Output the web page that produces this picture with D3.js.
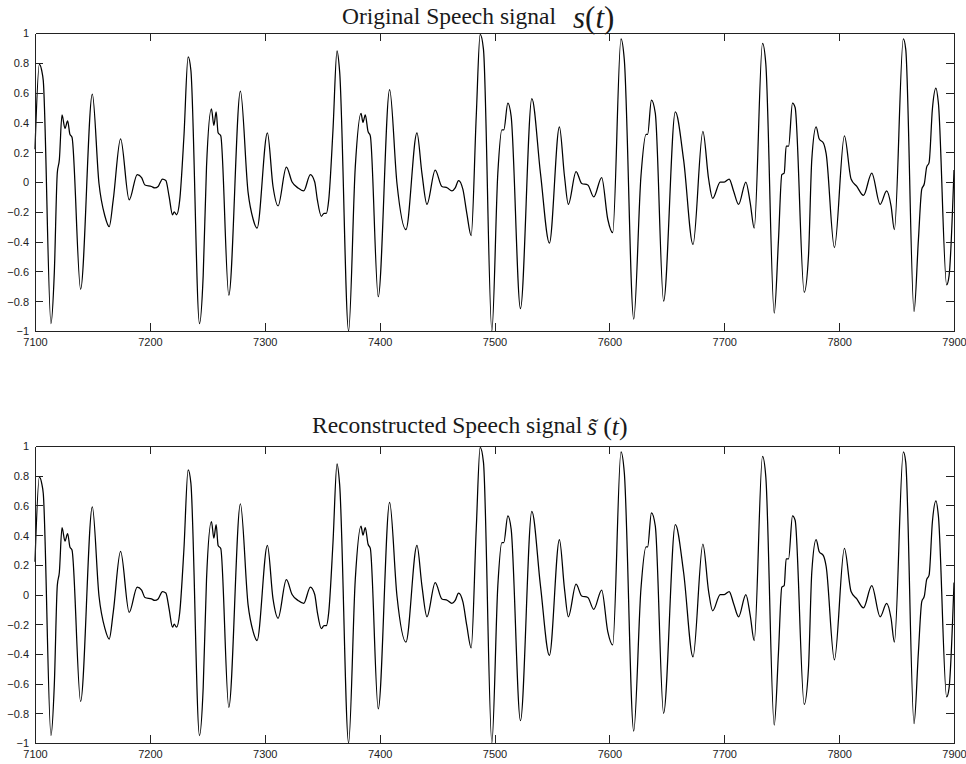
<!DOCTYPE html>
<html>
<head>
<meta charset="utf-8">
<script src="https://cdn.jsdelivr.net/npm/d3@7"></script>
<style>
    html, body { margin: 0; padding: 0; background: #fff; }
    #chart { width: 966px; height: 764px; }
    .wave { fill: none; stroke: #000; stroke-width: 1.25; stroke-linejoin: round; }
    .axis path, .axis line { stroke: #222; stroke-width: 1; shape-rendering: crispEdges; }
    .axis text { font-family: "Liberation Sans", Arial, sans-serif; font-size: 11px; fill: #222; }
    .title { font-family: "Liberation Serif", "Times New Roman", serif; fill: #1a1a1a; }
</style>
</head>
<body>
<div id="chart"></div>
<script>
// Sample index (t) and amplitude
const sampleIdx = [
    7100, 7103.8, 7105.8, 7107.2, 7113.9, 7116.8, 7119.4, 7121.2, 7123.5, 7126.1,
    7128.4, 7130.4, 7132.2, 7139.7, 7149.9, 7155.7, 7160.9, 7164.6, 7168.1, 7174.5,
    7182, 7189, 7192.8, 7195.7, 7201.4, 7204.3, 7207.2, 7211, 7213.9, 7216.8,
    7219.7, 7221.2, 7223.2, 7226, 7229.6, 7233.3, 7235.7, 7243.2, 7246.4, 7249.3,
    7253.6, 7255.7, 7257.7, 7259.4, 7261.7, 7268.7, 7278.8, 7285.5, 7289.9, 7293.3,
    7302.3, 7307.2, 7311.6, 7318.8, 7323.8, 7329, 7333.9, 7339.7, 7343.5, 7345.8,
    7349.3, 7351.6, 7353.6, 7355.7, 7359.4, 7362.9, 7365.2, 7373, 7378.8, 7383.8,
    7385.5, 7387.5, 7389.9, 7391.9, 7398.8, 7408.7, 7415.1, 7422.9, 7432.5, 7436.8,
    7441.2, 7448.4, 7454.2, 7459.1, 7462.9, 7465.8, 7468.7, 7472.5, 7475.9, 7479.7,
    7484.1, 7487.5, 7490.4, 7497.7, 7502.9, 7506.4, 7508.1, 7511.6, 7514.5, 7522.6,
    7532.5, 7540, 7547.8, 7556.5, 7560.9, 7564.3, 7571, 7575.9, 7581.2, 7586.4,
    7593.3, 7598.6, 7602.9, 7610.1, 7613, 7621.2, 7627.5, 7631.9, 7633.3, 7636.6,
    7640, 7647.2, 7657.4, 7664.6, 7672.8, 7681.4, 7686.4, 7689.9, 7696.5, 7700,
    7704.3, 7708.1, 7712.5, 7718.8, 7722.6, 7726.1, 7733.3, 7736.2, 7743.5, 7747.2,
    7750.1, 7752.2, 7753.9, 7756, 7759.4, 7761.7, 7769.6, 7773.3, 7776.2, 7780,
    7782.6, 7786.4, 7788.7, 7795.9, 7804.6, 7810.4, 7815.4, 7821.2, 7828.4, 7835.7,
    7841.4, 7845.2, 7848.1, 7855.9, 7858, 7865.2, 7869, 7871.9, 7874.2, 7876.2,
    7878.3, 7881.2, 7884.3, 7886.4, 7893.6, 7895.7, 7900
];

const originalSignal = [
    0.22, 0.79, 0.75, 0.68, -0.95, -0.61, 0.06, 0.15, 0.45, 0.36,
    0.41, 0.32, 0.30, -0.72, 0.59, -0.01, -0.23, -0.30, -0.12, 0.29,
    -0.12, 0.05, 0.03, -0.02, -0.03, -0.04, -0.03, 0.02, 0.01, -0.10,
    -0.22, -0.20, -0.22, -0.12, 0.30, 0.84, 0.75, -0.95, -0.63, 0.10,
    0.49, 0.38, 0.47, 0.33, 0.31, -0.76, 0.61, -0.07, -0.25, -0.31,
    0.33, -0.03, -0.16, 0.10, 0.00, -0.04, -0.06, 0.05, 0.00, -0.12,
    -0.23, -0.21, -0.21, -0.12, 0.35, 0.88, 0.74, -1.00, 0.10, 0.46,
    0.40, 0.45, 0.34, 0.31, -0.77, 0.62, -0.01, -0.32, 0.33, 0.06,
    -0.15, 0.08, -0.03, -0.04, -0.06, -0.04, 0.01, -0.05, -0.21, -0.36,
    0.44, 0.99, 0.89, -1.00, 0.06, 0.35, 0.35, 0.53, 0.44, -0.85,
    0.56, 0.06, -0.41, 0.37, 0.04, -0.15, 0.07, -0.01, -0.02, -0.10,
    0.03, -0.25, -0.34, 0.96, 0.82, -0.92, 0.04, 0.32, 0.32, 0.55,
    0.46, -0.80, 0.47, 0.15, -0.42, 0.34, 0.02, -0.11, 0.00, 0.00,
    0.02, -0.06, -0.15, 0.00, -0.14, -0.31, 0.93, 0.79, -0.88, -0.39,
    0.05, 0.06, 0.24, 0.24, 0.53, 0.50, -0.74, -0.50, 0.15, 0.37,
    0.29, 0.26, 0.19, -0.44, 0.31, 0.02, -0.03, -0.09, 0.06, -0.15,
    -0.06, -0.16, -0.32, 0.96, 0.89, -0.87, -0.39, -0.05, -0.01, 0.10,
    0.13, 0.49, 0.63, 0.53, -0.69, -0.63, 0.08
];

// the reconstruction is visually indistinguishable from the original
const reconstructedSignal = originalSignal.slice();

const xTicks = [7100, 7200, 7300, 7400, 7500, 7600, 7700, 7800, 7900];
const yTicks = [-1, -0.8, -0.6, -0.4, -0.2, 0, 0.2, 0.4, 0.6, 0.8, 1];

const svg = d3.select('#chart')
    .append('svg')
    .attr('width', 966)
    .attr('height', 764);

const x = d3.scaleLinear().domain([7100, 7900]).range([35, 954]);
const fmt = d3.format('.1~f');

function drawPanel(top, bottom, values) {
    const y = d3.scaleLinear().domain([-1, 1]).range([bottom, top]);
    const g = svg.append('g');

    // data line
    const line = d3.line()
        .x(d => x(d[0]))
        .y(d => y(d[1]))
        .curve(d3.curveMonotoneX);
    g.append('path')
        .attr('class', 'wave')
        .attr('d', line(d3.zip(sampleIdx, values)));

    // box with inward ticks on all four sides
    g.append('g')
        .attr('class', 'axis')
        .attr('transform', `translate(0,${bottom})`)
        .call(d3.axisBottom(x).tickValues(xTicks).tickSizeInner(-8).tickSizeOuter(0)
            .tickPadding(7).tickFormat(d3.format('d')));
    g.append('g')
        .attr('class', 'axis')
        .attr('transform', `translate(0,${top})`)
        .call(d3.axisTop(x).tickValues(xTicks).tickSizeInner(-8).tickSizeOuter(0).tickFormat(''));
    g.append('g')
        .attr('class', 'axis')
        .attr('transform', `translate(${x.range()[0]},0)`)
        .call(d3.axisLeft(y).tickValues(yTicks).tickSizeInner(-8).tickSizeOuter(0)
            .tickPadding(6).tickFormat(fmt))
        .selectAll('text').attr('dy', '0.36em');
    g.append('g')
        .attr('class', 'axis')
        .attr('transform', `translate(${x.range()[1]},0)`)
        .call(d3.axisRight(y).tickValues(yTicks).tickSizeInner(-8).tickSizeOuter(0).tickFormat(''));

    // drop tick lines that sit on the frame corners
    g.selectAll('.axis .tick line')
        .filter(d => d === 7100 || d === 7900 || d === -1 || d === 1)
        .remove();
}

drawPanel(33, 331, originalSignal);
drawPanel(446, 743, reconstructedSignal);

// titles
svg.append('text').attr('class', 'title')
    .attr('x', 342).attr('y', 23.5)
    .style('font-size', '23.5px')
    .text('Original Speech signal');
const m1 = svg.append('text').attr('class', 'title').attr('x', 573).attr('y', 28).style('font-size', '31px');
m1.append('tspan').style('font-style', 'italic').text('s');
m1.append('tspan').text('(');
m1.append('tspan').style('font-style', 'italic').text('t');
m1.append('tspan').text(')');

svg.append('text').attr('class', 'title')
    .attr('x', 312).attr('y', 433)
    .style('font-size', '23.5px')
    .text('Reconstructed Speech signal');
const m2 = svg.append('text').attr('class', 'title').attr('x', 587).attr('y', 435).style('font-size', '26px');
m2.append('tspan').style('font-style', 'italic').text('s\u0303');
m2.append('tspan').attr('dx', 6).text('(');
m2.append('tspan').style('font-style', 'italic').text('t');
m2.append('tspan').text(')');
</script>
</body>
</html>
